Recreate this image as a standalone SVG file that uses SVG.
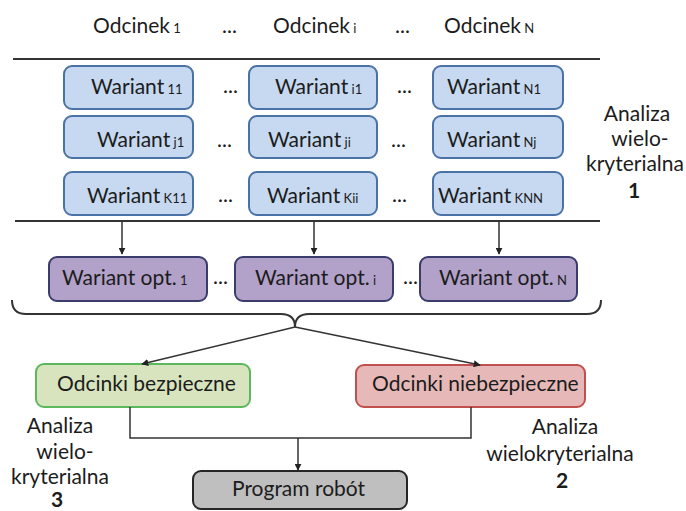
<svg xmlns="http://www.w3.org/2000/svg" width="686" height="511" viewBox="0 0 686 511">
<style>
text{font-family:Lato,"Liberation Sans",sans-serif;fill:#1c1c1c;font-size:21px}
.s{font-size:13px}
.c{text-anchor:middle}
.b{font-weight:bold}
.blue{fill:#c6d9f0;stroke:#4a72a6;stroke-width:2}
.purp{fill:#b2a1c9;stroke:#3a3d6b;stroke-width:2}
.green{fill:#d7e4bd;stroke:#5cb85c;stroke-width:2}
.red{fill:#e6b9b8;stroke:#c0504d;stroke-width:2}
.gray{fill:#bfbfbf;stroke:#262626;stroke-width:2}
.ln{fill:none;stroke:#333;stroke-width:1.5}
.rule{fill:none;stroke:#333;stroke-width:2}
</style>
<defs>
<marker id="ah" viewBox="0 0 10 10" refX="9" refY="5" markerWidth="7" markerHeight="7" orient="auto" markerUnits="userSpaceOnUse">
<path d="M0,0 L10,5 L0,10 z" fill="#222"/>
</marker>
</defs>

<g id="headers">
<text x="93" y="33">Odcinek<tspan class="s"> 1</tspan></text>
<text x="222" y="33">...</text>
<text x="273" y="33">Odcinek<tspan class="s"> i</tspan></text>
<text x="395" y="33">...</text>
<text x="444" y="33">Odcinek<tspan class="s"> N</tspan></text>
</g>

<g id="rules">
<line class="rule" x1="13" y1="59" x2="600" y2="59"/>
<line class="rule" x1="15" y1="221" x2="600" y2="221"/>
</g>

<g id="w11"><rect class="blue" x="64" y="66" width="129" height="43" rx="8"/><text x="91" y="94">Wariant<tspan class="s"> 11</tspan></text></g>
<g id="wi1"><rect class="blue" x="249" y="66" width="128" height="43" rx="8"/><text x="275" y="94">Wariant<tspan class="s"> i1</tspan></text></g>
<g id="wN1"><rect class="blue" x="433" y="66" width="130" height="43" rx="8"/><text x="447" y="94">Wariant<tspan class="s"> N1</tspan></text></g>
<g id="wj1"><rect class="blue" x="64" y="116" width="129" height="42" rx="8"/><text x="97" y="147">Wariant<tspan class="s"> j1</tspan></text></g>
<g id="wji"><rect class="blue" x="249" y="116" width="128" height="42" rx="8"/><text x="268" y="147">Wariant<tspan class="s"> ji</tspan></text></g>
<g id="wNj"><rect class="blue" x="433" y="116" width="130" height="42" rx="8"/><text x="447" y="147">Wariant<tspan class="s"> Nj</tspan></text></g>
<g id="wK11"><rect class="blue" x="64" y="172" width="129" height="43" rx="8"/><text x="87" y="203">Wariant<tspan class="s"> K11</tspan></text></g>
<g id="wKii"><rect class="blue" x="249" y="172" width="128" height="43" rx="8"/><text x="267" y="203">Wariant<tspan class="s"> Kii</tspan></text></g>
<g id="wKNN"><rect class="blue" x="433" y="172" width="130" height="43" rx="8"/><text x="438" y="203">Wariant<tspan class="s"> KNN</tspan></text></g>

<g id="dots">
<text x="223" y="93">...</text>
<text x="397" y="93">...</text>
<text x="217" y="147">...</text>
<text x="391" y="147">...</text>
<text x="218" y="202">...</text>
<text x="392" y="202">...</text>
<text x="213" y="284">...</text>
<text x="403" y="284">...</text>
</g>

<g id="opt1"><rect class="purp" x="49" y="257" width="158" height="44" rx="8"/><text x="62" y="285">Wariant opt.<tspan class="s"> 1</tspan></text></g>
<g id="opti"><rect class="purp" x="235" y="257" width="158" height="44" rx="8"/><text x="255" y="285">Wariant opt.<tspan class="s"> i</tspan></text></g>
<g id="optN"><rect class="purp" x="420" y="257" width="157" height="44" rx="8"/><text x="439" y="285">Wariant opt.<tspan class="s"> N</tspan></text></g>

<g id="safe"><rect class="green" x="36" y="364" width="214" height="43" rx="8"/><text x="57" y="391">Odcinki bezpieczne</text></g>
<g id="unsafe"><rect class="red" x="356" y="365" width="229" height="42" rx="8"/><text x="372" y="391">Odcinki niebezpieczne</text></g>
<g id="program"><rect class="gray" x="193" y="471" width="214" height="38" rx="8"/><text x="232" y="496">Program robót</text></g>

<g id="labels">
<text class="c" x="637" y="121">Analiza</text>
<text class="c" x="640" y="146">wielo-</text>
<text class="c" x="635" y="171">kryterialna</text>
<text class="c b" x="634" y="198">1</text>
<text class="c" x="60" y="433">Analiza</text>
<text class="c" x="65" y="459">wielo-</text>
<text class="c" x="60" y="484">kryterialna</text>
<text class="c b" x="57" y="507">3</text>
<text class="c" x="565" y="434">Analiza</text>
<text class="c" x="560" y="461">wielokryterialna</text>
<text class="c b" x="562" y="488">2</text>
</g>

<g id="connectors">
<line class="ln" x1="122" y1="221" x2="122" y2="254" marker-end="url(#ah)"/>
<line class="ln" x1="314" y1="221" x2="314" y2="254" marker-end="url(#ah)"/>
<line class="ln" x1="499" y1="221" x2="499" y2="254" marker-end="url(#ah)"/>
<path class="rule" d="M12,300 Q12,314 26,314 L281,314 Q295,314 295,327 Q295,314 309,314 L587,314 Q601,314 601,300"/>
<line class="ln" x1="295" y1="327" x2="142" y2="364" marker-end="url(#ah)"/>
<line class="ln" x1="295" y1="327" x2="480" y2="365" marker-end="url(#ah)"/>
<polyline class="ln" points="130,407 130,438 471,438 471,407"/>
<line class="ln" x1="298" y1="438" x2="298" y2="470" marker-end="url(#ah)"/>
</g>
</svg>
